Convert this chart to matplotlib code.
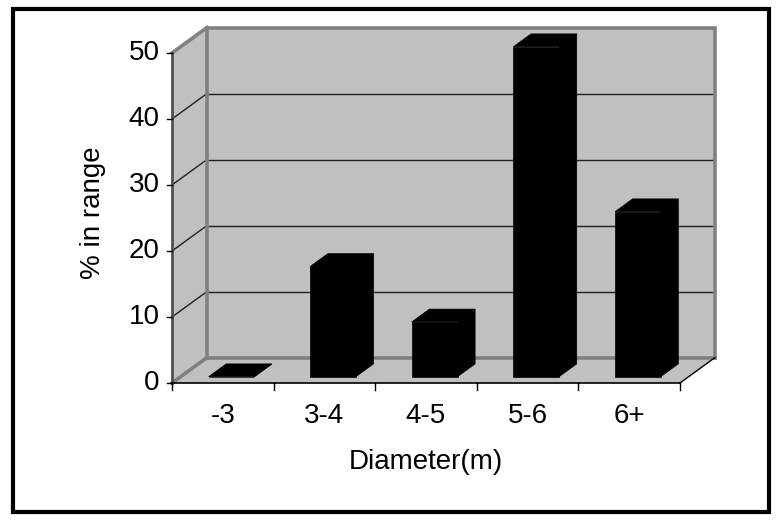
import matplotlib
matplotlib.use('Agg')
import matplotlib.pyplot as plt
from matplotlib.patches import Polygon, Rectangle

# Datos
categorias = ['-3', '3-4', '4-5', '5-6', '6+']
porcentajes = [0, 16.7, 8.3, 50, 25]
ticks_y = [0, 10, 20, 30, 40, 50]

plt.rcParams['font.family'] = ['Liberation Sans', 'DejaVu Sans']
fs = 20

# Geometria (unidades: categoria en x, % en y)
ymax = 50
DX = 0.3445      # desplazamiento de profundidad en x
DY = 3.86        # desplazamiento de profundidad en y
ancho = 0.45     # ancho de barra
d0, d1 = 0.25, 0.75   # profundidad de la barra
n = len(categorias)

gris = '#c0c0c0'
borde = '#808080'

fig = plt.figure(figsize=(7.8, 5.21), dpi=100)
ax = fig.add_axes([0, 0, 1, 1])
ax.set_xlim(-172 / 101.6, (780 - 172) / 101.6)
ax.set_ylim(-138 / 6.6, (521 - 138) / 6.6)
ax.axis('off')

# Pared trasera
ax.add_patch(Polygon([(DX, DY), (n + DX, DY), (n + DX, ymax + DY), (DX, ymax + DY)],
                     closed=True, facecolor=gris, edgecolor='none', zorder=1))
# Pared lateral
ax.add_patch(Polygon([(0, 0), (DX, DY), (DX, ymax + DY), (0, ymax)],
                     closed=True, facecolor=gris, edgecolor='none', zorder=1))
# Piso
ax.add_patch(Polygon([(0, 0), (n, 0), (n + DX, DY), (DX, DY)],
                     closed=True, facecolor=gris, edgecolor='none', zorder=1))

# Lineas de cuadricula
for v in ticks_y[1:-1]:
    ax.plot([DX, n + DX], [v + DY, v + DY], color='#202020', lw=1.0, zorder=2)
    ax.plot([0, DX], [v, v + DY], color='#202020', lw=1.0, zorder=2)

# Bordes grises
ax.plot([DX, DX, n + DX, n + DX], [DY, ymax + DY, ymax + DY, DY], color=borde, lw=2.6, zorder=2,
        solid_joinstyle='miter')
ax.plot([DX, n + DX], [DY, DY], color=borde, lw=2.6, zorder=2)
ax.plot([0, DX], [0, DY], color=borde, lw=2.6, zorder=2)
ax.plot([0, DX], [ymax, ymax + DY], color=borde, lw=2.6, zorder=2)
ax.plot([0, 0], [0, ymax], color='#505050', lw=2.0, zorder=2)
ax.plot([n, n + DX], [0, DY], color='black', lw=1.0, zorder=2)

# Barras 3D
for i, v in enumerate(porcentajes):
    x0 = i + 0.5 - ancho / 2 + d0 * DX
    x1 = x0 + ancho
    y0 = d0 * DY
    ddx = (d1 - d0) * DX
    ddy = (d1 - d0) * DY
    frente = [(x0, y0), (x1, y0), (x1, y0 + v), (x0, y0 + v)]
    tapa = [(x0, y0 + v), (x1, y0 + v), (x1 + ddx, y0 + v + ddy), (x0 + ddx, y0 + v + ddy)]
    lado = [(x1, y0), (x1 + ddx, y0 + ddy), (x1 + ddx, y0 + v + ddy), (x1, y0 + v)]
    for cara in (lado, tapa, frente):
        ax.add_patch(Polygon(cara, closed=True, facecolor='black', edgecolor='black',
                             lw=0.5, zorder=3))

# Eje x y marcas
ax.plot([0, n], [0, 0], color='black', lw=1.2, zorder=4)
for k in range(n + 1):
    ax.plot([k, k], [0, -1.0], color='black', lw=1.0, zorder=4)
for v in ticks_y:
    ax.plot([-0.05, 0], [v, v], color='black', lw=1.0, zorder=4)
    ax.text(-0.12, v, str(v), ha='right', va='center', fontsize=fs)

for i, c in enumerate(categorias):
    ax.text(i + 0.5, -4.95, c, ha='center', va='center', fontsize=fs)

ax.text(n / 2, -11.9, 'Diameter(m)', ha='center', va='center', fontsize=fs)
ax.text(-0.78, 25.8, '% in range', ha='center', va='center', rotation=90, fontsize=fs)

# Marco exterior
fig.add_artist(Rectangle((13 / 780, 9 / 521), 756 / 780, 503 / 521, transform=fig.transFigure,
                         fill=False, edgecolor='black', lw=3.0))

fig.savefig('out.png', dpi=100)
